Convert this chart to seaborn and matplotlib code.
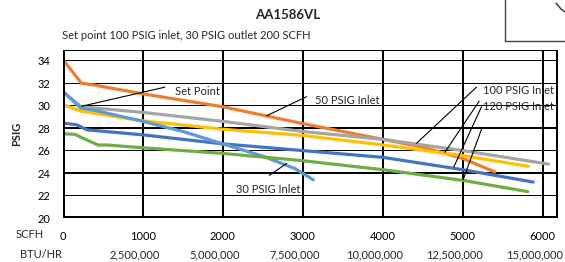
import pandas as pd
import matplotlib
matplotlib.use("Agg")
import matplotlib.pyplot as plt
import matplotlib.transforms as mtransforms
from matplotlib.lines import Line2D
import seaborn as sns

# Regulator flow curves (outlet PSIG vs flow SCFH)
blue_x = [0, 170, 300, 1000, 2000, 3000, 4000, 5000, 5880]
blue_y = [28.45, 28.3, 27.85, 27.4, 26.6, 26.0, 25.4, 24.3, 23.2]

orange_x = [0, 230, 380, 1000, 2000, 3000, 4000, 4500, 5000, 5400]
orange_y = [34.1, 32.0, 31.85, 31.05, 29.9, 28.4, 27.0, 26.3, 25.3, 24.1]

gray_x = [0, 230, 1000, 2000, 3000, 4000, 5000, 6070]
gray_y = [31.25, 29.9, 29.4, 28.6, 27.7, 27.0, 26.0, 24.8]

yellow_x = [0, 230, 1000, 2000, 3000, 4000, 5000, 5820]
yellow_y = [30.1, 29.5, 28.65, 27.9, 27.35, 26.5, 25.55, 24.6]

ltblue_x = [0, 220, 450, 1000, 1500, 2000, 2500, 2900, 3130]
ltblue_y = [31.25, 29.8, 29.5, 28.6, 27.7, 26.6, 25.5, 24.4, 23.4]

green_x = [0, 150, 250, 440, 550, 1000, 2000, 3000, 4000, 5000, 5810]
green_y = [27.5, 27.45, 27.1, 26.5, 26.5, 26.25, 25.75, 25.1, 24.3, 23.35, 22.35]

series_names = ["120 PSIG Inlet a", "50 PSIG Inlet", "100 PSIG Inlet a",
                "100 PSIG Inlet b", "30 PSIG Inlet", "120 PSIG Inlet b"]
series_colors = ["#4472C4", "#ED7D31", "#A5A5A5", "#FFC000", "#5B9BD5", "#70AD47"]

scfh_ticks = [0, 1000, 2000, 3000, 4000, 5000, 6000]
btu_ticks = [2500000, 5000000, 7500000, 10000000, 12500000, 15000000]
y_ticks = [20, 22, 24, 26, 28, 30, 32, 34]
x_max, y_min, y_max = 6190, 20, 35

# build long-form table
frames = []
for name, xs, ys in zip(series_names,
                        [blue_x, orange_x, gray_x, yellow_x, ltblue_x, green_x],
                        [blue_y, orange_y, gray_y, yellow_y, ltblue_y, green_y]):
    frames.append(pd.DataFrame({"SCFH": xs, "PSIG": ys, "series": name}))
df = pd.concat(frames, ignore_index=True)

sns.set_style("white")
plt.rcParams["font.family"] = ["Lato", "DejaVu Sans"]

W, H = 565, 262
fig = plt.figure(figsize=(W / 100, H / 100), dpi=100)
ax = fig.add_axes([63 / W, 1 - 218 / H, (558 - 63) / W, (218 - 49.5) / H])

sns.lineplot(data=df, x="SCFH", y="PSIG", hue="series", sort=False,
             palette=dict(zip(series_names, series_colors)),
             linewidth=2.3, legend=False, ax=ax, zorder=3)

ax.set_xlim(0, x_max)
ax.set_ylim(y_min, y_max)
ax.set_xticks(scfh_ticks)
ax.set_xticklabels([str(t) for t in scfh_ticks])
ax.set_yticks(y_ticks)
for s in ax.spines.values():
    s.set_visible(False)
ax.tick_params(axis="both", length=0, labelsize=8, colors="black")
ax.tick_params(axis="x", pad=9)
ax.tick_params(axis="y", pad=9)
ax.set_xlabel("")
ax.set_ylabel("PSIG", fontsize=8, fontweight="bold", labelpad=11)

# black Excel-style gridlines as thin filled bands (about 1.4 px wide)
dx = 1.4 * x_max / 495
dy = 1.4 * (y_max - y_min) / 168.5
for t in scfh_ticks[1:]:
    ax.axvspan(t - dx / 2, t + dx / 2, color="black", lw=0, zorder=1)
for t in y_ticks[1:]:
    ax.axhspan(t - dy / 2, t + dy / 2, color="black", lw=0, zorder=1)
# plot frame
ax.axvspan(0, dx * 1.2, color="black", lw=0, zorder=5)
ax.axvspan(x_max - dx * 1.2, x_max, color="black", lw=0, zorder=5)
ax.axhspan(y_min, y_min + dy * 1.2, color="black", lw=0, zorder=5)
ax.axhspan(y_max - dy * 1.2, y_max, color="black", lw=0, zorder=5)

# secondary BTU/HR row under the SCFH ticks
off = mtransforms.offset_copy(ax.transData, fig=fig, x=-8, y=0, units="dots")
row = mtransforms.blended_transform_factory(off, fig.transFigure)
for b in btu_ticks:
    ax.text(b / 2500, 1 - 255 / H, f"{b:,}", transform=row,
            ha="center", va="center", fontsize=8)
fig.text(20 / W, 1 - 255 / H, "BTU/HR", ha="left", va="center", fontsize=8)
fig.text(44 / W, 1 - 234 / H, "SCFH", ha="right", va="center", fontsize=8)

# titles
fig.text(288 / W, 1 - 15 / H, "AA1586VL", ha="center", va="center",
         fontsize=9.5, fontweight="bold")
fig.text(62 / W, 1 - 35 / H, "Set point 100 PSIG inlet, 30 PSIG outlet 200 SCFH",
         ha="left", va="center", fontsize=8)

# callouts
lk = dict(arrowstyle="-", color="black", lw=0.8, shrinkA=0, shrinkB=0)
ax.annotate("", xy=(233, 29.95), xytext=(1275, 31.65), arrowprops=lk)
ax.text(1400, 31.3, "Set Point", fontsize=8, va="center", ha="left")
ax.annotate("", xy=(2546, 29.1), xytext=(3046, 30.8), arrowprops=lk)
ax.text(3150, 30.5, "50 PSIG Inlet", fontsize=8, va="center", ha="left")
ax.annotate("", xy=(2796, 24.85), xytext=(2580, 23.8), arrowprops=lk)
ax.text(2162, 22.55, "30 PSIG Inlet", fontsize=8, va="center", ha="left")
ax.annotate("", xy=(4421, 26.65), xytext=(5171, 31.65), arrowprops=lk)
ax.annotate("", xy=(4775, 25.85), xytext=(5204, 30.4), arrowprops=lk)
ax.text(5246, 31.35, "100 PSIG Inlet", fontsize=8, va="center", ha="left", clip_on=True)
ax.annotate("", xy=(4887, 24.55), xytext=(5233, 29.9), arrowprops=lk)
ax.annotate("", xy=(5004, 23.4), xytext=(5233, 27.9), arrowprops=lk)
ax.text(5246, 29.9, "120 PSIG Inlet", fontsize=8, va="center", ha="left", clip_on=True)

# clipped frame of an adjacent element at top right
fig.add_artist(Line2D([504.5 / W, 504.5 / W], [1, 1 - 41 / H], color="#444444", lw=1.0))
fig.add_artist(Line2D([504.5 / W, 1], [1 - 40.5 / H, 1 - 40.5 / H], color="#444444", lw=1.0))
fig.add_artist(Line2D([556 / W, 561 / W, 565 / W], [1 - 3 / H, 1 - 9 / H, 1 - 12 / H],
                      color="#333333", lw=1.0))

fig.savefig("out.png", dpi=100)
